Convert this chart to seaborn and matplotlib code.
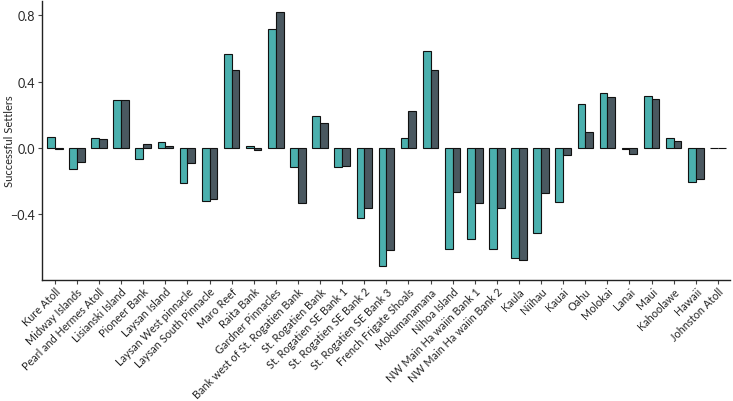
import pandas as pd
import matplotlib
matplotlib.use("Agg")
import matplotlib.pyplot as plt
import seaborn as sns

# Sites along the Hawaiian chain
sites = [
    "Kure Atoll", "Midway Islands", "Pearl and Hermes Atoll", "Lisianski Island",
    "Pioneer Bank", "Laysan Island", "Laysan West pinnacle", "Laysan South Pinnacle",
    "Maro Reef", "Raita Bank", "Gardner Pinnacles", "Bank west of St. Rogatien Bank",
    "St. Rogatien Bank", "St. Rogatien SE Bank 1", "St. Rogatien SE Bank 2",
    "St. Rogatien SE Bank 3", "French Frigate Shoals", "Mokumanamana", "Nihoa Island",
    "NW Main Ha waiin Bank 1", "NW Main Ha waiin Bank 2", "Kaula", "Niihau", "Kauai",
    "Oahu", "Molokai", "Lanai", "Maui", "Kahoolawe", "Hawaii", "Johnston Atoll",
]

# two series (teal / dark slate)
series_a = [0.066, -0.129, 0.060, 0.289, -0.066, 0.034, -0.211, -0.317,
            0.564, 0.010, 0.717, -0.117, 0.193, -0.117, -0.422, -0.713,
            0.060, 0.586, -0.607, -0.546, -0.607, -0.663, -0.514, -0.325,
            0.265, 0.329, -0.006, 0.315, 0.060, -0.205, 0.0]
series_b = [-0.004, -0.084, 0.054, 0.289, 0.024, 0.012, -0.090, -0.305,
            0.472, -0.012, 0.817, -0.330, 0.151, -0.107, -0.361, -0.614,
            0.225, 0.472, -0.267, -0.330, -0.364, -0.675, -0.273, -0.040,
            0.094, 0.305, -0.036, 0.297, 0.042, -0.189, 0.0]

yticks = [-0.4, 0.0, 0.4, 0.8]

df = pd.DataFrame({
    "site": sites * 2,
    "value": series_a + series_b,
    "series": ["A"] * len(sites) + ["B"] * len(sites),
})

sns.set_style("ticks")
plt.rcParams["font.family"] = ["Lato", "DejaVu Sans"]

fig, ax = plt.subplots(figsize=(7.33, 4.02), dpi=100)
fig.subplots_adjust(left=0.057, right=0.996, bottom=0.301, top=0.995)

sns.barplot(data=df, x="site", y="value", hue="series",
            palette=["#4bb0ae", "#4a5860"], saturation=1, width=0.7,
            edgecolor="#111111", linewidth=0.8, legend=False, ax=ax)

ax.set_xlim(-0.59, 30.55)
ax.set_ylim(-0.795, 0.885)
ax.set_yticks(yticks)
ax.set_yticklabels([f"{t:.1f}".replace("-", "\u2212") for t in yticks], fontsize=9)
ax.set_xticks(range(len(sites)))
ax.set_xticklabels(sites, rotation=45, ha="right", rotation_mode="anchor", fontsize=7.8)
ax.set_xlabel("")
ax.set_ylabel("Successful Settlers", fontsize=8)
ax.yaxis.set_label_coords(-0.039, 0.5)
ax.tick_params(length=3, width=0.8, color="#444444", pad=2)
ax.tick_params(axis="x", pad=1)
for side in ["top", "right"]:
    ax.spines[side].set_visible(False)
for side in ["left", "bottom"]:
    ax.spines[side].set_linewidth(1.0)
    ax.spines[side].set_color("#222222")

fig.savefig("out.png", dpi=100)
